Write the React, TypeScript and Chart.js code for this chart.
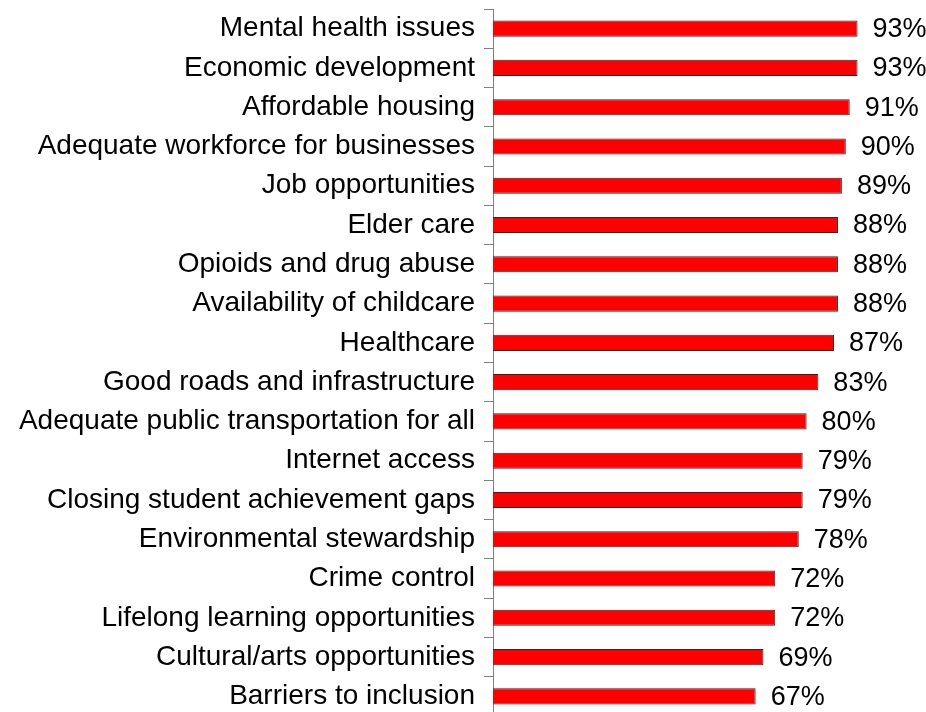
import React, { useEffect, useRef } from "react";
import { Chart, registerables } from "chart.js";

Chart.register(...registerables);

const categories = [
  "Mental health issues",
  "Economic development",
  "Affordable housing",
  "Adequate workforce for businesses",
  "Job opportunities",
  "Elder care",
  "Opioids and drug abuse",
  "Availability of childcare",
  "Healthcare",
  "Good roads and infrastructure",
  "Adequate public transportation for all",
  "Internet access",
  "Closing student achievement gaps",
  "Environmental stewardship",
  "Crime control",
  "Lifelong learning opportunities",
  "Cultural/arts opportunities",
  "Barriers to inclusion",
];

const values = [93, 93, 91, 90, 89, 88, 88, 88, 87, 83, 80, 79, 79, 78, 72, 72, 69, 67];

const FONT = "'Liberation Sans', Arial, sans-serif";

const valueLabels = {
  id: "valueLabels",
  afterDatasetsDraw(chart: any) {
    const ctx = chart.ctx;
    const meta = chart.getDatasetMeta(0);
    ctx.save();
    ctx.fillStyle = "#000";
    ctx.font = `27px ${FONT}`;
    ctx.textAlign = "left";
    ctx.textBaseline = "middle";
    meta.data.forEach((bar: any, i: number) => {
      const v = chart.data.datasets[0].data[i];
      ctx.fillText(`${v}%`, bar.x + 15, bar.y + 1);
    });
    ctx.restore();
  },
};

export default function App() {
  const ref = useRef<HTMLCanvasElement>(null);
  useEffect(() => {
    if (!ref.current) return;
    const chart = new Chart(ref.current, {
      type: "bar",
      data: {
        labels: categories,
        datasets: [
          {
            data: values,
            backgroundColor: "#FF0000",
            borderColor: "#2a2a2a",
            borderWidth: 1,
            barPercentage: 0.41,
            categoryPercentage: 1,
          },
        ],
      },
      options: {
        indexAxis: "y",
        animation: false,
        responsive: false,
        layout: { padding: { top: 9, right: 41, bottom: 0, left: 0 } },
        plugins: {
          legend: { display: false },
          tooltip: { enabled: false },
        },
        scales: {
          x: { display: false, min: 0, max: 100 },
          y: {
            afterFit: (scale: any) => {
              scale.width = 493;
              scale.paddingTop = 0;
              scale.paddingBottom = 0;
            },
            grid: {
              display: true,
              drawOnChartArea: false,
              drawTicks: true,
              tickLength: 9,
              color: "#808080",
              offset: true,
            },
            border: { display: true, color: "#808080", width: 1 },
            ticks: {
              color: "#000",
              font: { family: FONT, size: 28 },
              padding: 9,
              autoSkip: false,
            },
          },
        },
      },
      plugins: [valueLabels],
    });
    return () => chart.destroy();
  }, []);
  return (
    <div
      style={{
        position: "fixed",
        left: 0,
        top: 0,
        width: 926,
        height: 712,
        overflow: "hidden",
        background: "#fff",
      }}
    >
      <canvas ref={ref} width={926} height={716} style={{ display: "block" }} />
    </div>
  );
}
